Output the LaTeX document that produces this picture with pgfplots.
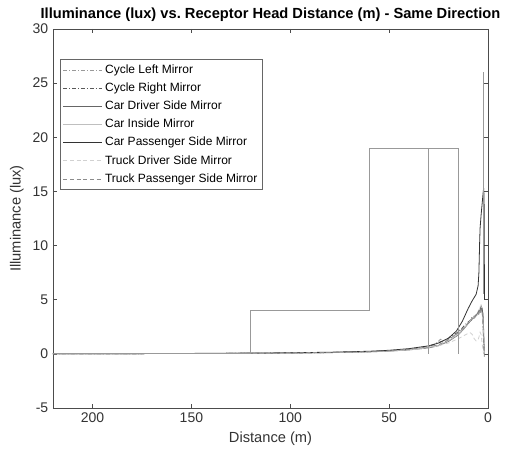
\documentclass[border=0pt]{standalone}
\usepackage{fontspec}
\setmainfont{Liberation Sans}
\usepackage{pgfplots}
\pgfplotsset{compat=1.18}

\begin{document}
\begin{tikzpicture}
\begin{axis}[
  scale only axis,
  width=326.25pt, height=284.25pt,
  x dir=reverse,
  xmin=0, xmax=220, ymin=-5, ymax=30,
  xtick={0,50,100,150,200}, ytick={-5,0,5,10,15,20,25,30},
  tick align=inside, major tick length=3pt,
  axis line style={black!70, line width=0.5pt},
  tick style={black!70, line width=0.5pt},
  /pgf/number format/assume math mode=true,
  ticklabel style={font=\fontsize{10.5}{12}\selectfont, text=black!80},
  xlabel={Distance (m)}, ylabel={Illuminance (lux)},
  label style={font=\fontsize{11}{13}\selectfont, text=black!80},
  title={Illuminance (lux) vs.\ Receptor Head Distance (m) - Same Direction},
  title style={font=\bfseries\fontsize{11}{13}\selectfont, yshift=-4pt},
  legend style={at={(0.016,0.921)}, anchor=north west, font=\fontsize{9}{10.8}\selectfont,
    draw=black!60, line width=0.5pt, inner sep=2pt, row sep=1.6pt},
  legend cell align=left,
  legend image code/.code={\draw[#1] (0pt,0pt) -- (29pt,0pt);},
  every axis plot/.append style={line width=0.6pt},
]
% Cycle Left Mirror
\addplot[black!40, dash pattern=on 3pt off 1.5pt on 0.6pt off 1.5pt] coordinates {
 (220,0.01) (150,0.03) (120,0.05) (100,0.08) (80,0.12) (60,0.2) (50,0.28) (40,0.4)
 (35,0.52) (30,0.66) (27,0.85) (24,1.35) (22,1.2) (20,1.35) (18,1.55) (15,1.95)
 (13,2.3) (11,2.65) (9,3.0) (8,3.15) (7,3.5) (6,3.4) (5,3.9) (4.5,3.6) (4,4.2)
 (3.5,3.8) (3,4.3) (2.7,3.5) (2.5,2.5) (2.3,1.2) (2,0.3) (1.8,-0.2)
};
% Cycle Right Mirror
\addplot[black!65, dash pattern=on 3pt off 1.5pt on 0.6pt off 1.5pt] coordinates {
 (220,0.01) (150,0.03) (120,0.05) (100,0.08) (80,0.12) (60,0.21) (50,0.29) (40,0.42)
 (35,0.54) (30,0.7) (27,0.9) (25,1.05) (22,1.25) (20,1.45) (18,1.65) (15,2.05)
 (13,2.4) (11,2.8) (9,3.1) (8,3.4) (7,3.3) (6,3.7) (5,3.6) (4.5,4.1) (4,3.9)
 (3.5,4.4) (3,4.0) (2.7,3.8) (2.5,3.0) (2.3,1.8) (2,0.6) (1.8,0.0)
};
% Car Driver Side Mirror
\addplot[black!60] coordinates {
 (220,0.01) (150,0.03) (120,0.05) (100,0.07) (80,0.11) (60,0.18) (50,0.25) (40,0.36)
 (30,0.55) (25,0.75) (20,1.15) (15,1.75) (12,2.35) (10,2.8) (8,3.2) (6,3.6) (5,3.8)
 (4,4.0) (3,4.2) (2.5,3.6) (2.2,2.2) (2,1.0) (1.8,0.2)
};
% Car Inside Mirror
\addplot[black!25] coordinates {
 (220,0.01) (150,0.03) (120,0.05) (100,0.07) (80,0.12) (60,0.2) (50,0.27) (40,0.38)
 (30,0.6) (25,0.8) (20,1.2) (15,1.8) (12,2.4) (10,2.85) (8,3.25) (6,3.5) (5,3.7)
 (4,3.9) (3,3.8) (2.5,3.0) (2.2,1.8) (2,0.6) (1.8,0.0)
};
% Car Passenger Side Mirror
\addplot[black!80] coordinates {
 (220,0.01) (180,0.02) (150,0.04) (120,0.07) (100,0.1) (80,0.15) (60,0.24) (50,0.33)
 (40,0.48) (30,0.74) (25,1.0) (20,1.45) (16,2.1) (13,3.0) (10,4.2) (8,4.9) (6,5.5)
 (5,6.3) (4.6,7.5) (4.2,10.5) (4,11.6) (3.5,12.8) (3,13.8) (2.5,14.8) (2.2,15.3)
 (2,14.5) (1.9,12) (1.8,5)
};
% Truck Driver Side Mirror
\addplot[black!18, dash pattern=on 3pt off 2pt] coordinates {
 (220,0.01) (150,0.03) (120,0.05) (100,0.07) (80,0.11) (60,0.18) (50,0.25) (40,0.36)
 (30,0.55) (25,0.75) (20,1.0) (15,1.4) (12,1.7) (10,1.9) (9,1.95) (8,1.8) (7,1.4)
 (6,1.2) (5,1.3) (4.5,1.6) (4,2.0) (3.5,1.8) (3,1.0) (2.5,0.3) (2.2,0.0)
};
% Truck Passenger Side Mirror
\addplot[black!45, dash pattern=on 3pt off 2pt] coordinates {
 (220,0.01) (150,0.03) (120,0.05) (100,0.08) (80,0.12) (60,0.2) (50,0.28) (40,0.41)
 (30,0.63) (25,0.85) (22,1.1) (20,1.3) (15,1.95) (12,2.45) (10,2.85) (8,3.3) (7,3.2)
 (6,3.6) (5,3.5) (4.5,3.9) (4,3.7) (3.5,4.1) (3,3.9) (2.6,3.2) (2.3,1.5) (2,0.2) (1.8,-0.3)
};
% step outline
\addplot[black!40, forget plot] coordinates {
 (220,0) (120,0) (120,4) (60,4) (60,19) (30,19) (30,0) (30,19) (15,19) (15,0)
};
\addplot[black!40, forget plot] coordinates {(2.1,26) (2.1,5.5)};
\legend{Cycle Left Mirror, Cycle Right Mirror, Car Driver Side Mirror, Car Inside Mirror,
  Car Passenger Side Mirror, Truck Driver Side Mirror, Truck Passenger Side Mirror}
\end{axis}
\pgfresetboundingbox
\path ([shift={(-39.75pt,-34.5pt)}]current axis.south west) rectangle ([shift={(12.75pt,21.75pt)}]current axis.north east);
\end{tikzpicture}
\end{document}
